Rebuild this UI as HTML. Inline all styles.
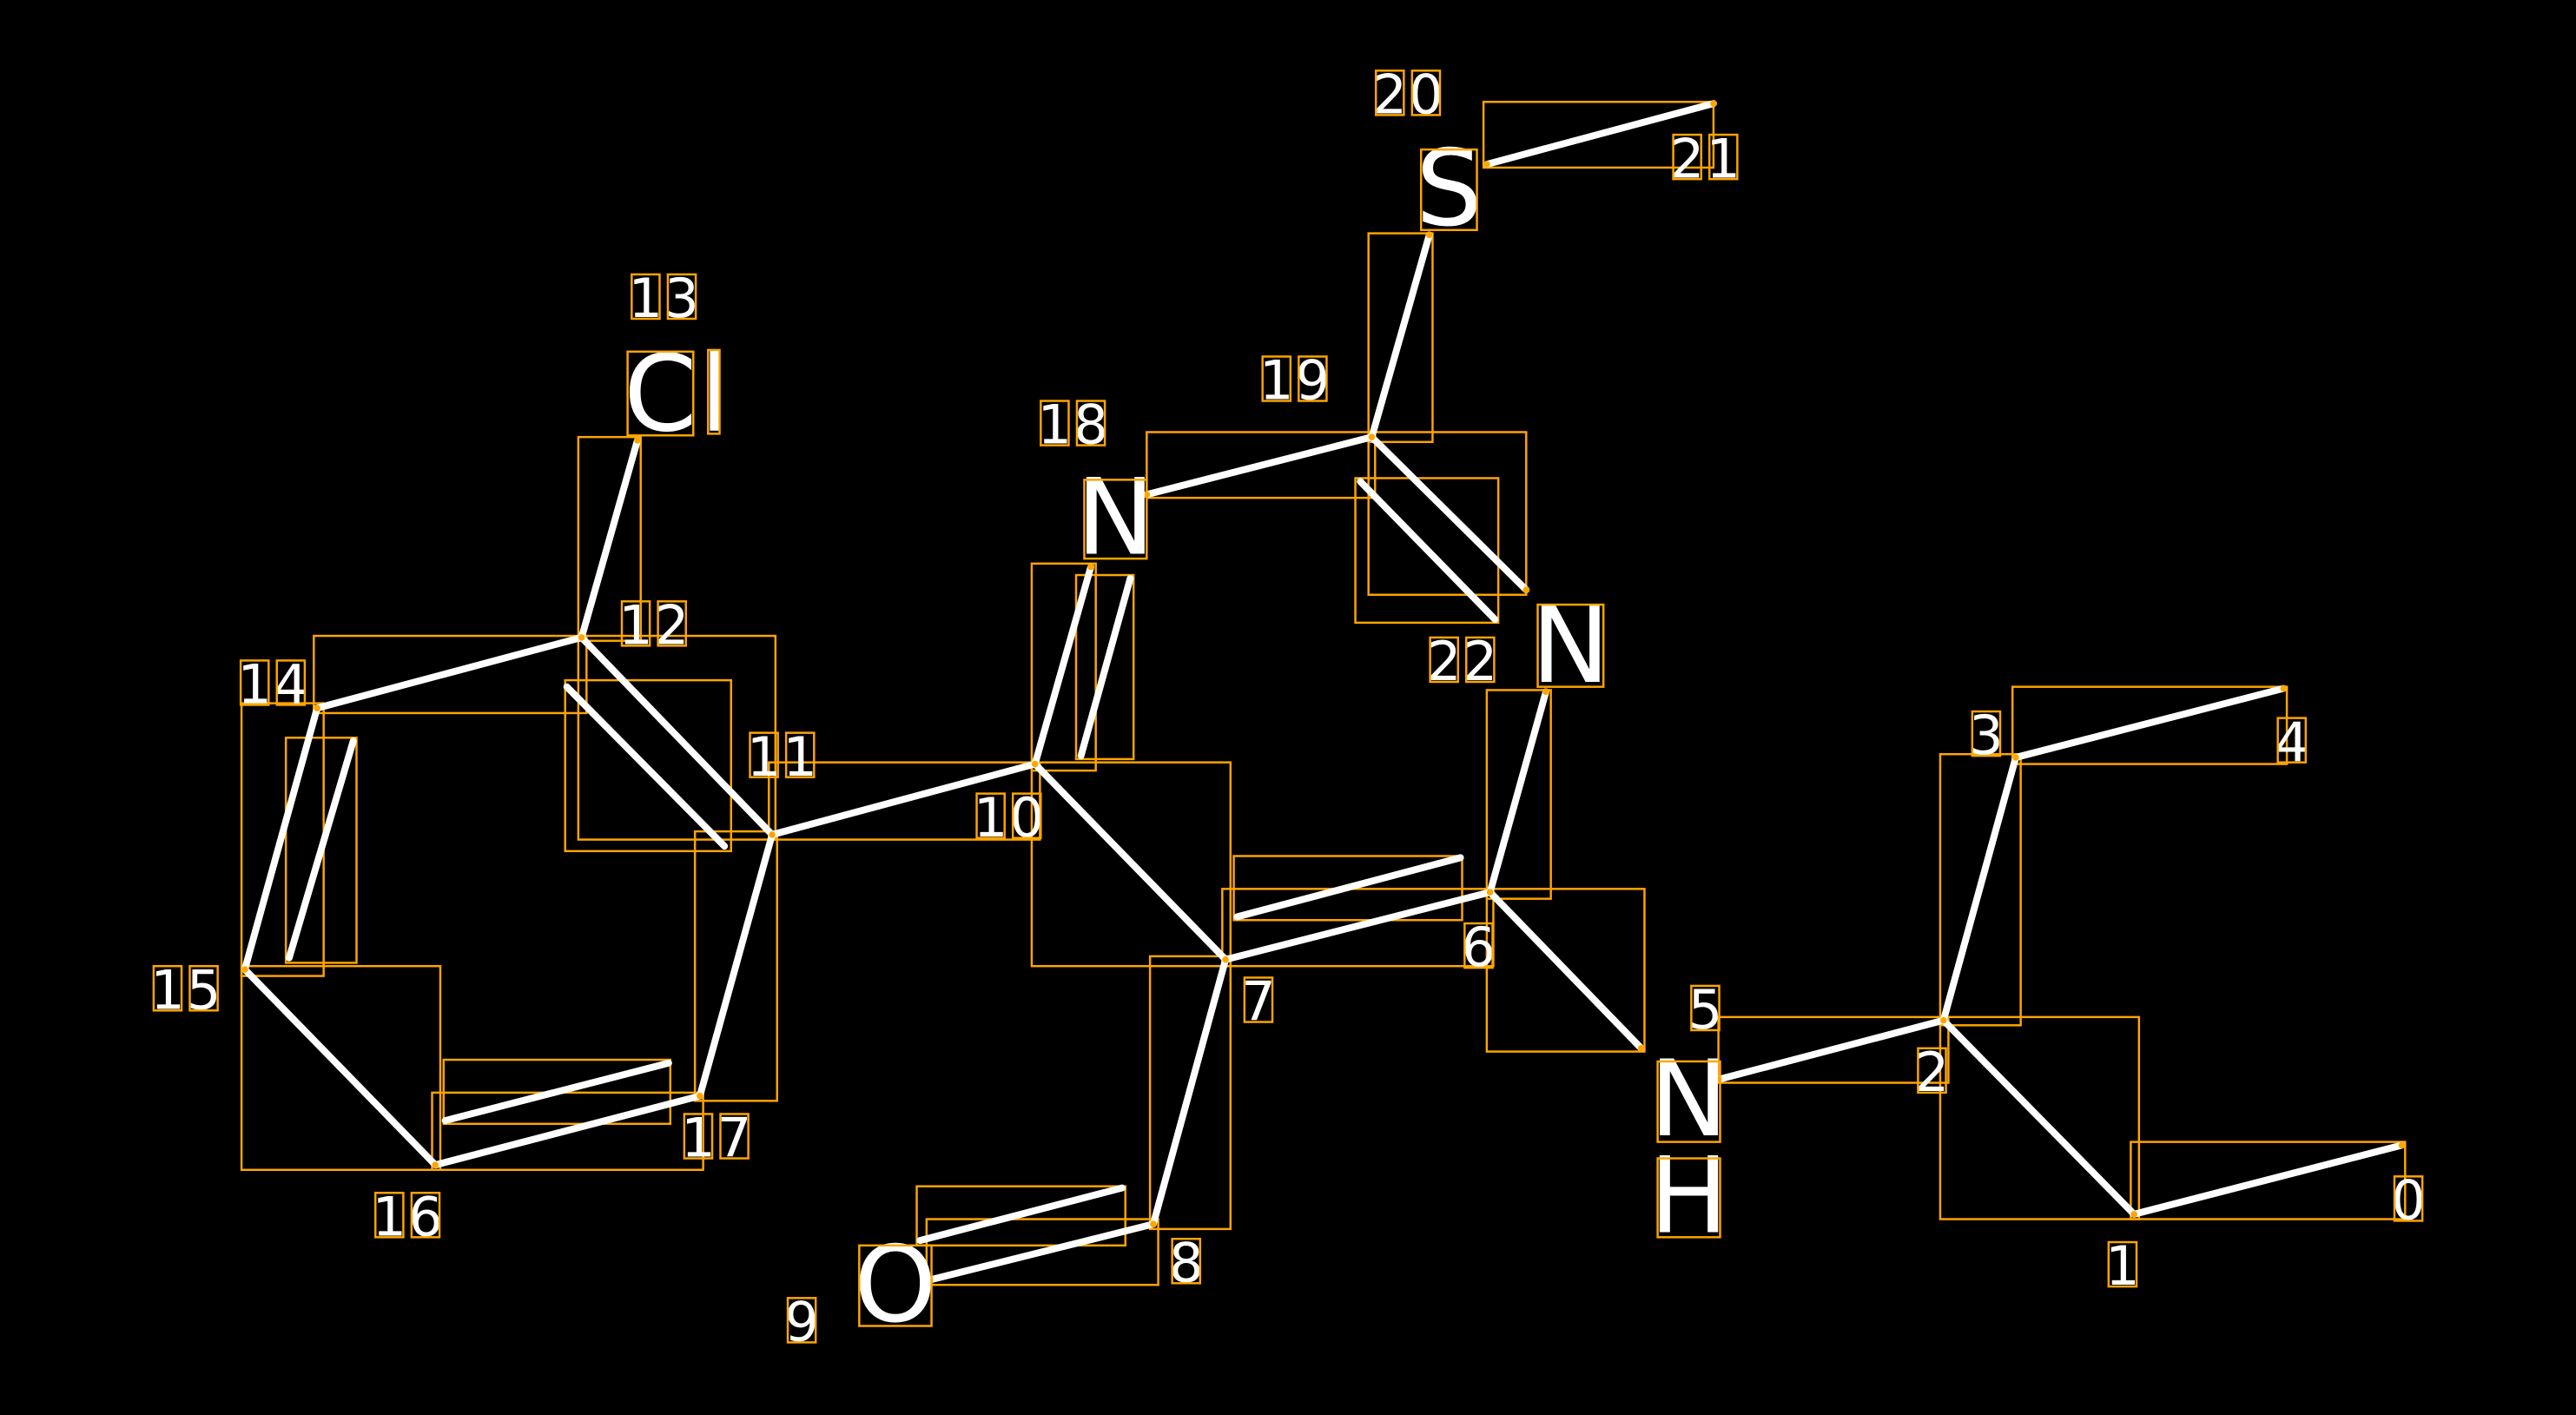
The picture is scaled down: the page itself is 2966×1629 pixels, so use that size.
<!DOCTYPE html>
<html><head><meta charset="utf-8"><style>
html,body{margin:0;padding:0;background:#000;width:2966px;height:1629px;overflow:hidden}
svg{display:block}
text{font-family:"DejaVu Sans","Liberation Sans",sans-serif;fill:#fff}
</style></head><body>
<svg width="2966" height="1629" viewBox="0 0 1568 861.2" xmlns="http://www.w3.org/2000/svg">
<rect width="1568" height="861.2" fill="#000"/>
<g fill="none" stroke="#FFA500" stroke-width="1.3">
<rect x="903" y="62" width="140" height="40"/>
<rect x="833" y="142" width="39" height="127"/>
<rect x="698" y="263" width="139" height="40"/>
<rect x="833" y="263" width="96" height="99"/>
<rect x="825" y="291" width="87" height="88"/>
<rect x="628" y="343" width="39" height="126"/>
<rect x="655" y="350" width="35" height="112"/>
<rect x="352" y="266" width="38" height="124"/>
<rect x="191" y="387" width="166" height="47"/>
<rect x="352" y="387" width="120" height="124"/>
<rect x="344" y="414" width="101" height="104"/>
<rect x="147" y="428" width="50" height="166"/>
<rect x="174" y="449" width="43" height="137"/>
<rect x="147" y="588" width="121" height="124"/>
<rect x="263" y="665" width="165" height="47"/>
<rect x="270" y="645" width="138" height="39"/>
<rect x="423" y="506" width="50" height="164"/>
<rect x="468" y="464" width="165" height="47"/>
<rect x="628" y="464" width="121" height="124"/>
<rect x="744" y="541" width="165" height="47"/>
<rect x="751" y="521" width="139" height="39"/>
<rect x="700" y="582" width="49" height="166"/>
<rect x="564" y="742" width="141" height="40"/>
<rect x="558" y="722" width="127" height="36"/>
<rect x="905" y="420" width="39" height="127"/>
<rect x="905" y="541" width="96" height="99"/>
<rect x="1046" y="619" width="140" height="40"/>
<rect x="1181" y="459" width="49" height="165"/>
<rect x="1225" y="418" width="167" height="47"/>
<rect x="1181" y="619" width="121" height="123"/>
<rect x="1297" y="695" width="167" height="47"/>
</g>
<g stroke="#fff" stroke-width="4.2" stroke-linecap="round">
<line x1="1462" y1="697" x2="1299" y2="739"/>
<line x1="1299" y1="739" x2="1183" y2="621"/>
<line x1="1183" y1="621" x2="1227" y2="461"/>
<line x1="1227" y1="461" x2="1390" y2="419"/>
<line x1="1183" y1="621" x2="1046" y2="657"/>
<line x1="907" y1="543" x2="999" y2="638"/>
<line x1="907" y1="543" x2="941" y2="421"/>
<line x1="907" y1="543" x2="746" y2="584"/>
<line x1="753" y1="558" x2="889" y2="522"/>
<line x1="746" y1="584" x2="702" y2="745"/>
<line x1="702" y1="745" x2="566" y2="779"/>
<line x1="560" y1="755" x2="683" y2="723"/>
<line x1="746" y1="584" x2="630" y2="465"/>
<line x1="630" y1="465" x2="664" y2="345"/>
<line x1="658" y1="460" x2="688" y2="352"/>
<line x1="698" y1="301" x2="835" y2="266"/>
<line x1="835" y1="266" x2="870" y2="143"/>
<line x1="835" y1="266" x2="929" y2="359"/>
<line x1="828" y1="293" x2="910" y2="377"/>
<line x1="630" y1="465" x2="470" y2="508"/>
<line x1="470" y1="508" x2="354" y2="388"/>
<line x1="345" y1="418" x2="441" y2="515"/>
<line x1="354" y1="388" x2="388" y2="268"/>
<line x1="354" y1="388" x2="193" y2="431"/>
<line x1="193" y1="431" x2="149" y2="590"/>
<line x1="176" y1="583" x2="215" y2="451"/>
<line x1="149" y1="590" x2="265" y2="709"/>
<line x1="265" y1="709" x2="426" y2="667"/>
<line x1="271" y1="682" x2="407" y2="647"/>
<line x1="426" y1="667" x2="470" y2="508"/>
<line x1="905" y1="100" x2="1043" y2="63"/>
</g>
<g fill="#FFA500">
<circle cx="1462" cy="697" r="2"/><circle cx="1299" cy="739" r="2"/><circle cx="1183" cy="621" r="2"/>
<circle cx="1227" cy="461" r="2"/><circle cx="1390" cy="419" r="2"/><circle cx="1046" cy="657" r="2"/>
<circle cx="907" cy="543" r="2"/><circle cx="746" cy="584" r="2"/><circle cx="702" cy="745" r="2"/>
<circle cx="566" cy="779" r="2"/><circle cx="630" cy="465" r="2"/><circle cx="664" cy="345" r="2"/>
<circle cx="698" cy="301" r="2"/><circle cx="835" cy="266" r="2"/><circle cx="870" cy="143" r="2"/>
<circle cx="470" cy="508" r="2"/><circle cx="354" cy="388" r="2"/><circle cx="388" cy="268" r="2"/>
<circle cx="193" cy="431" r="2"/><circle cx="149" cy="590" r="2"/><circle cx="265" cy="709" r="2"/>
<circle cx="426" cy="667" r="2"/><circle cx="905" cy="100" r="2"/><circle cx="1043" cy="63" r="2"/>
<circle cx="941" cy="421" r="2"/><circle cx="999" cy="638" r="2"/><circle cx="929" cy="359" r="2"/>
</g>
<g font-size="64" text-anchor="middle">
<text x="882" y="137">S</text>
<text x="679" y="337">N</text>
<text x="956" y="415">N</text>
<text x="1028" y="691">N</text>
<text x="1028" y="750">H</text>
<text x="545" y="804">O</text>
<text x="402" y="262">C</text>
<text x="435" y="262">l</text>
</g>
<g fill="none" stroke="#FFA500" stroke-width="1.3">
<rect x="865" y="91" width="34" height="49"/>
<rect x="660" y="292" width="38" height="48"/>
<rect x="936" y="368" width="40" height="50"/>
<rect x="1009" y="646" width="38" height="49"/>
<rect x="1009" y="705" width="38" height="48"/>
<rect x="523" y="758" width="44" height="49"/>
<rect x="382" y="214" width="40" height="51"/>
<rect x="431" y="213" width="7" height="51"/>
</g>
<g font-size="33" text-anchor="middle">
<text x="1466" y="742">0</text>
<text x="1292" y="782">1</text>
<text x="1176" y="664">2</text>
<text x="1209" y="459">3</text>
<text x="1395" y="463">4</text>
<text x="1038" y="626">5</text>
<text x="900" y="588">6</text>
<text x="766" y="621">7</text>
<text x="722" y="780">8</text>
<text x="488" y="816">9</text>
<text x="603" y="509">1</text><text x="625" y="509">0</text>
<text x="465" y="472">1</text><text x="487" y="472">1</text>
<text x="387" y="392">1</text><text x="409" y="392">2</text>
<text x="393" y="193">1</text><text x="415" y="193">3</text>
<text x="155" y="428">1</text><text x="177" y="428">4</text>
<text x="102" y="614">1</text><text x="124" y="614">5</text>
<text x="237" y="752">1</text><text x="259" y="752">6</text>
<text x="425" y="704">1</text><text x="447" y="704">7</text>
<text x="642" y="270">1</text><text x="664" y="270">8</text>
<text x="777" y="243">1</text><text x="799" y="243">9</text>
<text x="846" y="69">2</text><text x="868" y="69">0</text>
<text x="1027" y="108">2</text><text x="1049" y="108">1</text>
<text x="879" y="414">2</text><text x="901" y="414">2</text>
</g>
<g fill="none" stroke="#FFA500" stroke-width="1.3">
<rect x="1457.5" y="716" width="17" height="27"/>
<rect x="1283.5" y="756" width="17" height="27"/>
<rect x="1167.5" y="638" width="17" height="27"/>
<rect x="1200.5" y="433" width="17" height="27"/>
<rect x="1386.5" y="437" width="17" height="27"/>
<rect x="1029.5" y="600" width="17" height="27"/>
<rect x="891.5" y="562" width="17" height="27"/>
<rect x="757.5" y="595" width="17" height="27"/>
<rect x="713.5" y="754" width="17" height="27"/>
<rect x="479.5" y="790" width="17" height="27"/>
<rect x="594.5" y="483" width="17" height="27"/><rect x="616.5" y="483" width="17" height="27"/>
<rect x="456.5" y="446" width="17" height="27"/><rect x="478.5" y="446" width="17" height="27"/>
<rect x="378.5" y="366" width="17" height="27"/><rect x="400.5" y="366" width="17" height="27"/>
<rect x="384.5" y="167" width="17" height="27"/><rect x="406.5" y="167" width="17" height="27"/>
<rect x="146.5" y="402" width="17" height="27"/><rect x="168.5" y="402" width="17" height="27"/>
<rect x="93.5" y="588" width="17" height="27"/><rect x="115.5" y="588" width="17" height="27"/>
<rect x="228.5" y="726" width="17" height="27"/><rect x="250.5" y="726" width="17" height="27"/>
<rect x="416.5" y="678" width="17" height="27"/><rect x="438.5" y="678" width="17" height="27"/>
<rect x="633.5" y="244" width="17" height="27"/><rect x="655.5" y="244" width="17" height="27"/>
<rect x="768.5" y="217" width="17" height="27"/><rect x="790.5" y="217" width="17" height="27"/>
<rect x="837.5" y="43" width="17" height="27"/><rect x="859.5" y="43" width="17" height="27"/>
<rect x="1018.5" y="82" width="17" height="27"/><rect x="1040.5" y="82" width="17" height="27"/>
<rect x="870.5" y="388" width="17" height="27"/><rect x="892.5" y="388" width="17" height="27"/>
</g>
</svg>
</body></html>
